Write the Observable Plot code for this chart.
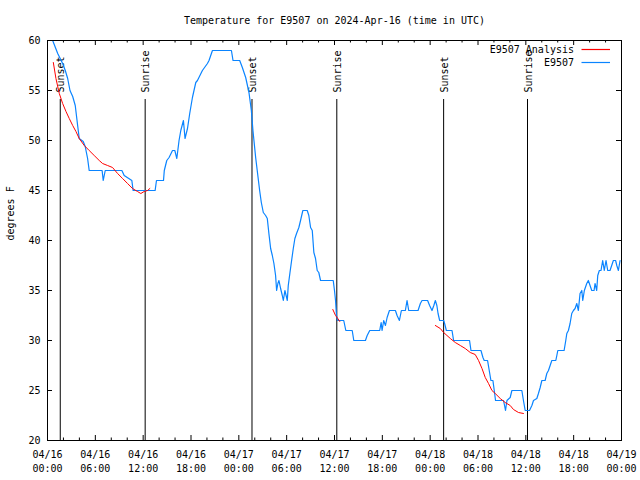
<!DOCTYPE html>
<html><head><meta charset="utf-8">
<script src="https://cdn.jsdelivr.net/npm/d3@7"></script>
<script src="https://cdn.jsdelivr.net/npm/@observablehq/plot@0.6"></script>
<style>body{margin:0;background:#fff}</style>
</head><body><div id="chart"></div>
<script>
const title = "Temperature for E9507 on 2024-Apr-16 (time in UTC)";
const yLabel = "degrees F";
const startUTC = Date.UTC(2024, 3, 16, 0, 0, 0);
const endUTC = Date.UTC(2024, 3, 19, 0, 0, 0);

// Observed series E9507: hours since 2024-04-16 00:00 UTC, temperature °F
const obsHours = [0,0.65,1.28,1.90,2.23,2.53,2.82,3.16,3.48,3.78,3.98,4.48,4.73,5.03,5.23,6.85,6.99,7.24,9.33,9.62,10.58,10.74,13.50,13.67,14.55,14.65,14.96,15.25,15.68,15.97,16.22,16.50,16.72,17.05,17.25,17.56,17.84,18.18,18.60,18.81,19.43,20.06,20.26,20.69,23.07,23.27,24.11,24.44,24.86,25.27,25.57,25.77,26.11,26.61,26.82,27.07,27.36,27.57,27.77,27.99,28.20,28.40,28.61,28.74,28.90,29.03,29.24,29.45,29.58,29.78,29.93,30.08,30.20,30.40,30.62,30.83,31.03,31.24,31.53,31.74,32.03,32.58,32.78,33.00,33.21,33.41,33.62,33.83,34.03,34.25,35.84,36.00,36.13,36.25,36.38,37.16,37.29,37.42,38.22,38.42,39.88,40.10,40.42,41.67,41.85,41.97,42.17,42.39,42.60,42.89,43.64,43.85,44.14,44.39,44.89,45.10,45.31,46.48,46.77,46.98,47.68,47.93,48.23,48.46,48.65,48.84,48.99,49.19,49.69,49.81,50.03,50.74,50.94,52.94,53.12,54.37,54.62,54.78,55.20,55.41,55.62,55.87,56.04,56.20,57.20,57.33,57.45,57.63,58.04,58.25,59.50,59.70,59.92,60.46,60.76,60.96,61.38,61.58,61.80,62.01,62.42,62.63,62.84,63.05,63.26,63.76,63.89,64.01,64.80,65.01,65.14,65.34,65.55,65.76,65.97,66.18,66.39,66.59,66.80,67.02,67.14,67.34,67.64,67.84,68.27,68.56,68.68,68.89,69.02,69.22,69.43,69.64,69.84,70.06,70.27,70.56,70.77,70.98,71.26,71.41,71.61,71.82];
const obsTemps = [61.3,60,58.7,57.7,57,56.2,55,54.4,53.5,51.5,50.2,49.9,49.4,48.2,47,47,46,47,47,46.5,46,45,45,46,46,47,48,48.3,49,49,48.2,50,51,52,50.2,51.2,52.7,54.3,55.8,56,57,57.7,58,59,59,58,58,57.3,56.3,54.8,53,51,48.3,45,43.8,42.8,42.5,42.2,40.7,39.2,38.5,37.7,36.5,35,35.7,36,35.2,34.5,34,35,34.5,34,35.5,36.7,38,39.2,40.2,40.7,41.3,42,43,43,42.5,41.3,41,38.8,38.2,37,36.8,36,36,35,34,32.5,32,32,31.5,31,31,30,30,30.5,31,31,31.8,31,32,31.5,32.3,33,33,32.5,32,33,33,34,33,33,33.7,34,34,33.5,33,33.5,34,33.5,32.7,32,32,31.7,31,31,30,30,29,29,28.3,28,28,27,26,26,25,24,24,23.5,23,24,24.3,25,25,24,23,23,23.5,24,24.2,24.7,25.3,26,26,26.7,27,27.5,28,28,28.5,29,29,30,30.7,31,31.7,32.7,33,33.2,33.7,33,34.7,35,34,35,35.7,36,35,35,35.7,35,36.5,37,37,38,37,38,37,37,37.5,38,38,37.5,37,38];

// Analysis series (three separate night segments)
const anaSegment = [1,1,1,1,1,1,1,1,1,1,1,1,1,1,1,1,1,1,1,1,1,1,1,1,1, 2,2,2,2, 3,3,3,3,3,3,3,3,3,3,3,3,3,3,3,3,3,3,3,3,3,3];
const anaHours = [0.73,1.06,1.48,1.90,2.32,2.73,3.16,3.57,3.98,4.61,5.23,5.86,6.49,6.91,7.54,8.16,8.79,9.42,10.04,10.67,11.29,11.71,12.12,12.55,12.84, 35.79,36.13,36.41,36.66, 48.65,49.27,49.69,50.11,50.53,51.15,51.78,52.40,53.03,53.65,54.07,54.50,54.91,55.32,55.75,56.16,56.79,57.41,58.04,58.45,59.08,59.70];
const anaTemps = [57.8,56.2,54.7,53.7,52.9,52.2,51.5,50.9,50.2,49.5,49,48.5,48,47.7,47.5,47.3,46.7,46.2,45.7,45.2,44.9,44.7,44.9,45,45.2, 33.1,32.5,32.2,31.9, 31.5,31.2,30.8,30.5,30.2,29.8,29.5,29.2,28.8,28.6,28,27.2,26.3,25.7,25,24.7,24.2,23.8,23.5,23.1,22.8,22.7];

// Sunset / sunrise markers
const eventHours = [1.60, 12.25, 25.65, 36.29, 49.69, 60.21];
const eventNames = ["Sunset", "Sunrise", "Sunset", "Sunrise", "Sunset", "Sunrise"];
const eventLineTop = 54.1;
const eventLabelBase = 54.8;

// Axes
const majorTickHours = [0,6,12,18,24,30,36,42,48,54,60,66,72];
const xTickLabels = ["04/16\n00:00","04/16\n06:00","04/16\n12:00","04/16\n18:00","04/17\n00:00","04/17\n06:00","04/17\n12:00","04/17\n18:00","04/18\n00:00","04/18\n06:00","04/18\n12:00","04/18\n18:00","04/19\n00:00"];
const minorTickHours = [2,4,8,10,14,16,20,22,26,28,32,34,38,40,44,46,50,52,56,58,62,64,68,70];
const yTicks = [20,25,30,35,40,45,50,55,60];

const legendLabels = ["E9507 Analysis", "E9507"];
const colAnalysis = "#ff0000";
const colObs = "#0a84ff";
const legendColors = [colAnalysis, colObs];

const toDate = h => new Date(startUTC + h * 3600e3);
const obs = obsHours.map((h, i) => ({t: toDate(h), v: obsTemps[i]}));
const ana = anaHours.map((h, i) => ({t: toDate(h), v: anaTemps[i], s: anaSegment[i]}));
const events = eventHours.map((h, i) => ({t: toDate(h), name: eventNames[i]}));
const majors = majorTickHours.map((h, i) => ({t: toDate(h), label: xTickLabels[i]}));
const minors = minorTickHours.map(toDate);

function legendMark(index, scales, values, dims) {
  const g = d3.create("svg:g");
  const right = dims.width - dims.marginRight;
  legendLabels.forEach((lab, i) => {
    const y = dims.marginTop + 9.5 + i * 13;
    g.append("text").attr("x", right - 47).attr("y", y).attr("dy", "0.35em")
      .attr("text-anchor", "end").attr("fill", "black").text(lab);
    g.append("line").attr("x1", right - 39.5).attr("x2", right - 11)
      .attr("y1", y).attr("y2", y).attr("stroke", legendColors[i]).attr("stroke-width", 1.2);
  });
  return g.node();
}

const chart = Plot.plot({
  width: 640,
  height: 480,
  marginLeft: 47,
  marginRight: 19,
  marginTop: 40,
  marginBottom: 40,
  style: {fontFamily: "'DejaVu Sans Mono', monospace", fontSize: "10px", background: "white", color: "black"},
  x: {type: "utc", domain: [new Date(startUTC), new Date(endUTC)], axis: null},
  y: {domain: [20, 60], axis: null},
  marks: [
    Plot.ruleX(events, {x: "t", y1: 20, y2: eventLineTop, stroke: "black", strokeWidth: 1}),
    Plot.text(events, {x: "t", y: eventLabelBase, text: "name", rotate: -90, textAnchor: "start", lineAnchor: "middle", dx: 1, fill: "black"}),
    Plot.line(obs, {x: "t", y: "v", stroke: colObs, strokeWidth: 1.2, clip: true}),
    Plot.line(ana, {x: "t", y: "v", z: "s", stroke: colAnalysis, strokeWidth: 1, clip: true}),
    Plot.tickX(majors, {x: "t", insetTop: 395, stroke: "black"}),
    Plot.tickX(majors, {x: "t", insetBottom: 395, stroke: "black"}),
    Plot.tickX(minors, {x: d => d, insetTop: 397.5, stroke: "black"}),
    Plot.tickX(minors, {x: d => d, insetBottom: 397.5, stroke: "black"}),
    Plot.tickY(yTicks, {y: d => d, insetRight: 569, stroke: "black"}),
    Plot.tickY(yTicks, {y: d => d, insetLeft: 569, stroke: "black"}),
    Plot.frame({stroke: "black"}),
    Plot.text(yTicks, {y: d => d, text: d => String(d), frameAnchor: "left", textAnchor: "end", dx: -7, fill: "black"}),
    Plot.text(majors, {x: "t", text: "label", frameAnchor: "bottom", lineAnchor: "top", dy: 8, lineHeight: 1.4, fill: "black"}),
    Plot.text([yLabel], {frameAnchor: "left", dx: -37, rotate: -90, fill: "black"}),
    Plot.text([title], {frameAnchor: "top", dy: -24, fill: "black"}),
    legendMark
  ]
});
document.getElementById("chart").appendChild(chart);
</script>
</body></html>
